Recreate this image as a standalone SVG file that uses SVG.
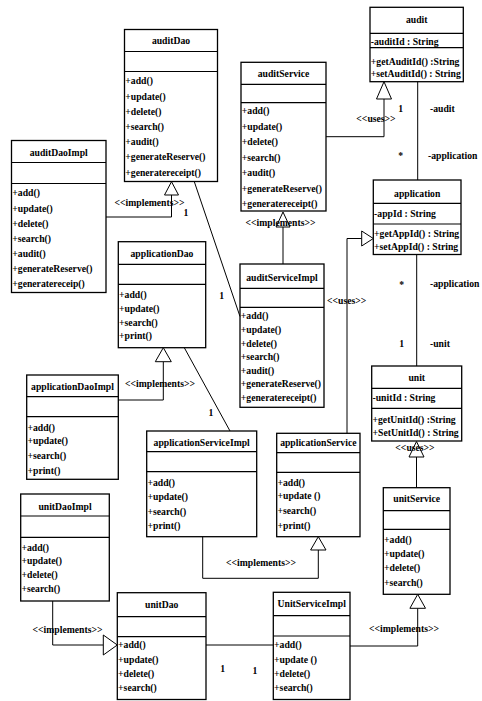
<svg xmlns="http://www.w3.org/2000/svg" width="482" height="701" viewBox="0 0 482 701">
<style>
text{font-family:"Liberation Serif","Times New Roman",serif;font-weight:bold;font-size:11px;fill:#000}
.m{transform-box:fill-box;transform-origin:0 50%;transform:scaleX(.88)}
.c{text-anchor:middle;transform-box:fill-box;transform-origin:50% 50%;transform:scaleX(.88)}
.box{fill:#fff;stroke:#000;stroke-width:1.3}
.sep{fill:none;stroke:#000;stroke-width:1.2}
.ln{fill:none;stroke:#000;stroke-width:1}
.tri{fill:#fff;stroke:#000;stroke-width:1}
</style>
<rect width="482" height="701" fill="#fff"/>

<g id="auditDao">
<rect class="box" x="124.5" y="29.5" width="93" height="152"/>
<path class="sep" d="M124.5 51.5H217.5M124.5 71.5H217.5"/>
<text class="c" x="171" y="44.5">auditDao</text>
<text class="m" x="125.3" y="84.5">+add()</text>
<text class="m" x="125.3" y="99.7">+update()</text>
<text class="m" x="125.3" y="114.9">+delete()</text>
<text class="m" x="125.3" y="130.1">+search()</text>
<text class="m" x="125.3" y="145.3">+audit()</text>
<text class="m" x="125.3" y="160.5">+generateReserve()</text>
<text class="m" x="125.3" y="175.7">+generatereceipt()</text>
</g>

<g id="auditDaoImpl">
<rect class="box" x="11.5" y="140.5" width="94.5" height="152"/>
<path class="sep" d="M11.5 162.5H106M11.5 183.5H106"/>
<text class="c" x="58.7" y="155.7">auditDaoImpl</text>
<text class="m" x="12.3" y="196.5">+add()</text>
<text class="m" x="12.3" y="211.6">+update()</text>
<text class="m" x="12.3" y="226.7">+delete()</text>
<text class="m" x="12.3" y="241.8">+search()</text>
<text class="m" x="12.3" y="256.9">+audit()</text>
<text class="m" x="12.3" y="272">+generateReserve()</text>
<text class="m" x="12.3" y="287.1">+generatereceip()</text>
</g>

<g id="auditService">
<rect class="box" x="241" y="62.3" width="85" height="148.7"/>
<path class="sep" d="M241 84.3H326M241 102.7H326"/>
<text class="c" x="283.5" y="77.3">auditService</text>
<text class="m" x="241.8" y="114.4">+add()</text>
<text class="m" x="241.8" y="129.9">+update()</text>
<text class="m" x="241.8" y="145.4">+delete()</text>
<text class="m" x="241.8" y="160.9">+search()</text>
<text class="m" x="241.8" y="176.4">+audit()</text>
<text class="m" x="241.8" y="191.9">+generateReserve()</text>
<text class="m" x="241.8" y="207.4">+generatereceipt()</text>
</g>

<g id="audit">
<rect class="box" x="370" y="7.3" width="93.3" height="74.4"/>
<path class="sep" d="M370 33.3H463.3M370 47.7H463.3"/>
<text class="c" x="416.7" y="23">audit</text>
<text class="m" x="370.8" y="45">-auditId : String</text>
<text class="m" x="370.8" y="65">+getAuditId() :String</text>
<text class="m" x="370.8" y="77">+setAuditId() : String</text>
</g>

<g id="application">
<rect class="box" x="373.3" y="180" width="87.7" height="74.5"/>
<path class="sep" d="M373.3 203.3H461M373.3 224H461"/>
<text class="c" x="417.2" y="197.3">application</text>
<text class="m" x="374.1" y="217.3">-appId : String</text>
<text class="m" x="374.1" y="237.5">+getAppId() : String</text>
<text class="m" x="374.1" y="250.5">+setAppId() : String</text>
</g>

<g id="unit">
<rect class="box" x="371.7" y="366" width="90" height="75"/>
<path class="sep" d="M371.7 388.3H461.7M371.7 408.3H461.7"/>
<text class="c" x="416.7" y="380.7">unit</text>
<text class="m" x="372.5" y="400.7">-unitId : String</text>
<text class="m" x="372.5" y="423">+getUnitId() :String</text>
<text class="m" x="372.5" y="435.7">+SetUnitId() : String</text>
</g>

<g id="auditServiceImpl">
<rect class="box" x="240" y="264" width="84" height="143.3"/>
<path class="sep" d="M240 288.3H324M240 307.3H324"/>
<text class="c" x="282" y="280.7">auditServiceImpl</text>
<text class="m" x="240.8" y="319.5">+add()</text>
<text class="m" x="240.8" y="333.1">+update()</text>
<text class="m" x="240.8" y="346.7">+delete()</text>
<text class="m" x="240.8" y="360.3">+search()</text>
<text class="m" x="240.8" y="373.9">+audit()</text>
<text class="m" x="240.8" y="387.5">+generateReserve()</text>
<text class="m" x="240.8" y="401.1">+generatereceipt()</text>
</g>

<g id="applicationDao">
<rect class="box" x="118.3" y="241.7" width="87.4" height="106"/>
<path class="sep" d="M118.3 264.3H205.7M118.3 284.3H205.7"/>
<text class="c" x="162" y="257.3">applicationDao</text>
<text class="m" x="119.1" y="298">+add()</text>
<text class="m" x="119.1" y="312.3">+update()</text>
<text class="m" x="119.1" y="325.7">+search()</text>
<text class="m" x="119.1" y="339">+print()</text>
</g>

<g id="applicationDaoImpl">
<rect class="box" x="26.7" y="375" width="91.6" height="104.3"/>
<path class="sep" d="M26.7 396.7H118.3M26.7 416.7H118.3"/>
<text class="c" x="72.5" y="389.7">applicationDaoImpl</text>
<text class="m" x="27.5" y="430.7">+add()</text>
<text class="m" x="27.5" y="444.5">+update()</text>
<text class="m" x="27.5" y="459.5">+search()</text>
<text class="m" x="27.5" y="474.5">+print()</text>
</g>

<g id="applicationServiceImpl">
<rect class="box" x="146.7" y="431" width="110" height="105.7"/>
<path class="sep" d="M146.7 451.7H256.7M146.7 471.7H256.7"/>
<text class="c" x="201.7" y="445.7">applicationServiceImpl</text>
<text class="m" x="147.5" y="485.7">+add()</text>
<text class="m" x="147.5" y="500.5">+update()</text>
<text class="m" x="147.5" y="514.7">+search()</text>
<text class="m" x="147.5" y="529.5">+print()</text>
</g>

<g id="applicationService">
<rect class="box" x="276.7" y="433.3" width="83.3" height="103.4"/>
<path class="sep" d="M276.7 452.7H360M276.7 472.3H360"/>
<text class="c" x="318.3" y="446.5">applicationService</text>
<text class="m" x="277.5" y="485.7">+add()</text>
<text class="m" x="277.5" y="499">+update ()</text>
<text class="m" x="277.5" y="514">+search()</text>
<text class="m" x="277.5" y="529">+print()</text>
</g>

<g id="unitService">
<rect class="box" x="383.3" y="487.7" width="66.7" height="106.6"/>
<path class="sep" d="M383.3 510.7H450M383.3 529.3H450"/>
<text class="c" x="416.7" y="502.3">unitService</text>
<text class="m" x="384.1" y="543.3">+add()</text>
<text class="m" x="384.1" y="557.5">+update()</text>
<text class="m" x="384.1" y="571.5">+delete()</text>
<text class="m" x="384.1" y="586">+search()</text>
</g>

<g id="unitDaoImpl">
<rect class="box" x="20.7" y="494" width="88.6" height="107"/>
<path class="sep" d="M20.7 516H109.3M20.7 537.3H109.3"/>
<text class="c" x="65" y="509.7">unitDaoImpl</text>
<text class="m" x="21.5" y="550.7">+add()</text>
<text class="m" x="21.5" y="564">+update()</text>
<text class="m" x="21.5" y="578.3">+delete()</text>
<text class="m" x="21.5" y="592.3">+search()</text>
</g>

<g id="unitDao">
<rect class="box" x="117.3" y="592.7" width="88.7" height="106.8"/>
<path class="sep" d="M117.3 616.7H206M117.3 636.7H206"/>
<text class="c" x="161.7" y="608.3">unitDao</text>
<text class="m" x="118.1" y="648">+add()</text>
<text class="m" x="118.1" y="663">+update()</text>
<text class="m" x="118.1" y="677.3">+delete()</text>
<text class="m" x="118.1" y="691.3">+search()</text>
</g>

<g id="UnitServiceImpl">
<rect class="box" x="273.3" y="592.3" width="76.7" height="107.2"/>
<path class="sep" d="M273.3 615.7H350M273.3 636H350"/>
<text class="c" x="311.7" y="607.3">UnitServiceImpl</text>
<text class="m" x="274.1" y="648">+add()</text>
<text class="m" x="274.1" y="663">+update ()</text>
<text class="m" x="274.1" y="677.3">+delete()</text>
<text class="m" x="274.1" y="691.3">+search()</text>
</g>

<g id="connectors">
<path class="ln" d="M106 217H171.5V195"/>
<path class="tri" d="M171.5 181.7L178.5 195H164.5Z"/>
<text class="c" x="149.5" y="205.7">&lt;&lt;implements&gt;&gt;</text>
<text class="c" x="186" y="216">1</text>
<path class="ln" d="M194.3 181.7L240 316.5"/>
<text class="c" x="221.7" y="299">1</text>
<path class="ln" d="M326 136.7H384V99"/>
<path class="tri" d="M384 81.7L391.5 99H376.5Z"/>
<text class="c" x="376" y="122">&lt;&lt;uses&gt;&gt;</text>
<text class="c" x="400.7" y="112">1</text>
<path class="ln" d="M417.7 81.7V180"/>
<text class="m" x="430" y="112">-audit</text>
<text class="c" x="400.7" y="159">*</text>
<text class="m" x="428" y="159">-application</text>
<path class="ln" d="M283 264V227"/>
<path class="tri" d="M283 212L290 227H276Z"/>
<text class="c" x="280.5" y="225.7">&lt;&lt;implements&gt;&gt;</text>
<path class="ln" d="M347 433.3V238.5H361.7"/>
<path class="tri" d="M373.3 238.5L361.7 246V231Z"/>
<text class="c" x="346.7" y="304">&lt;&lt;uses&gt;&gt;</text>
<path class="ln" d="M416.7 254.5V366"/>
<text class="c" x="401.7" y="287.7">*</text>
<text class="m" x="430" y="287.3">-application</text>
<text class="c" x="401.7" y="347.3">1</text>
<text class="m" x="430" y="347.3">-unit</text>
<path class="ln" d="M416.5 487.7V457"/>
<path class="tri" d="M416.5 441.5L424 457H409Z"/>
<text class="c" x="415" y="450.7">&lt;&lt;uses&gt;&gt;</text>
<path class="ln" d="M118.3 400H163.3V361.7"/>
<path class="tri" d="M163.3 347.7L171.3 361.7H155.3Z"/>
<text class="c" x="160" y="387.3">&lt;&lt;implements&gt;&gt;</text>
<path class="ln" d="M184.3 347.7L230 431"/>
<text class="c" x="211" y="415.7">1</text>
<path class="ln" d="M202.7 536.7V578.3H318.3V550"/>
<path class="tri" d="M318.3 536.7L326 550H310.6Z"/>
<text class="c" x="261" y="565.7">&lt;&lt;implements&gt;&gt;</text>
<path class="ln" d="M52.7 601V645H103.3"/>
<path class="tri" d="M117.3 645L103.3 655V635Z"/>
<text class="c" x="67.5" y="633">&lt;&lt;implements&gt;&gt;</text>
<path class="ln" d="M206 645H273.3"/>
<text class="c" x="222.7" y="672">1</text>
<text class="c" x="255" y="674">1</text>
<path class="ln" d="M350 646H417.7V608.3"/>
<path class="tri" d="M417.7 594.3L425.5 608.3H409.9Z"/>
<text class="c" x="404" y="631.7">&lt;&lt;implements&gt;&gt;</text>
</g>
</svg>
